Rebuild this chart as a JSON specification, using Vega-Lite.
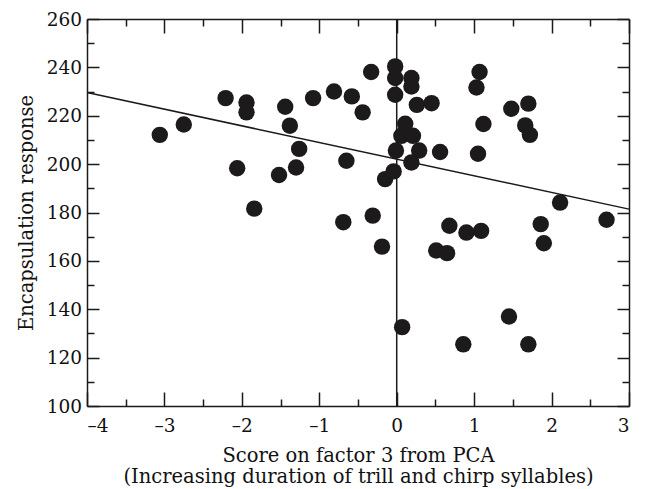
{
  "$schema": "https://vega.github.io/schema/vega-lite/v6.json",
  "width": 542,
  "height": 387,
  "autosize": "none",
  "padding": {"left": 87, "top": 19, "right": 19, "bottom": 83},
  "config": {
    "font": "DejaVu Serif",
    "view": {"stroke": null},
    "axis": {
      "domainColor": "#1a1a1a",
      "domainWidth": 1.5,
      "tickColor": "#1a1a1a",
      "tickWidth": 1.5,
      "grid": false,
      "labelFont": "DejaVu Serif",
      "labelFontSize": 18.5,
      "labelColor": "#111111",
      "titleFont": "DejaVu Serif",
      "titleFontSize": 19.5,
      "titleFontWeight": "normal",
      "titleColor": "#111111"
    }
  },
  "datasets": {
    "pts": [
      {"x": -3.06, "y": 212.1}, {"x": -2.75, "y": 216.4}, {"x": -2.21, "y": 227.3},
      {"x": -1.94, "y": 225.5}, {"x": -1.94, "y": 221.4}, {"x": -2.06, "y": 198.3},
      {"x": -1.84, "y": 181.6}, {"x": -1.52, "y": 195.5}, {"x": -1.30, "y": 198.6},
      {"x": -1.26, "y": 206.3}, {"x": -1.38, "y": 215.9}, {"x": -1.44, "y": 223.7},
      {"x": -1.08, "y": 227.3}, {"x": -0.81, "y": 230.0}, {"x": -0.58, "y": 228.0},
      {"x": -0.33, "y": 238.1}, {"x": -0.44, "y": 221.4}, {"x": -0.65, "y": 201.4},
      {"x": -0.69, "y": 176.0}, {"x": -0.31, "y": 178.7}, {"x": -0.19, "y": 165.9},
      {"x": 0.07, "y": 132.6}, {"x": -0.15, "y": 193.8}, {"x": -0.04, "y": 197.0},
      {"x": -0.02, "y": 240.4}, {"x": -0.02, "y": 235.6}, {"x": 0.19, "y": 235.6},
      {"x": 0.19, "y": 232.1}, {"x": -0.02, "y": 228.7}, {"x": 0.26, "y": 224.5},
      {"x": 0.45, "y": 225.2}, {"x": 1.07, "y": 238.1}, {"x": 1.03, "y": 231.7},
      {"x": 1.48, "y": 222.9}, {"x": 1.70, "y": 225.0}, {"x": 1.66, "y": 216.0},
      {"x": 1.72, "y": 212.1}, {"x": 1.12, "y": 216.6}, {"x": 0.56, "y": 205.0},
      {"x": 1.05, "y": 204.3}, {"x": 0.11, "y": 216.7}, {"x": 0.06, "y": 211.7},
      {"x": 0.21, "y": 211.7}, {"x": -0.01, "y": 205.6}, {"x": 0.29, "y": 205.6},
      {"x": 0.19, "y": 200.7}, {"x": 2.11, "y": 184.1}, {"x": 2.71, "y": 177.0},
      {"x": 0.68, "y": 174.5}, {"x": 0.51, "y": 164.3}, {"x": 0.65, "y": 163.2},
      {"x": 0.90, "y": 171.7}, {"x": 1.09, "y": 172.4}, {"x": 1.86, "y": 175.2},
      {"x": 1.90, "y": 167.3}, {"x": 1.45, "y": 137.0}, {"x": 0.86, "y": 125.5},
      {"x": 1.70, "y": 125.5}
    ],
    "fit": [{"x": -4, "y": 229.6}, {"x": 3, "y": 181.4}],
    "vline": [{"x": 0, "y": 100, "y2": 260}]
  },
  "resolve": {"axis": {"x": "independent", "y": "independent"}},
  "layer": [
    {
      "data": {"name": "vline"},
      "mark": {"type": "rule", "color": "#1a1a1a", "strokeWidth": 1.5},
      "encoding": {
        "x": {
          "field": "x", "type": "quantitative",
          "scale": {"domain": [-4, 3], "nice": false, "zero": false},
          "axis": {
            "orient": "top", "title": null, "labels": false,
            "values": [-4, -3.5, -3, -2.5, -2, -1.5, -1, -0.5, 0, 0.5, 1, 1.5, 2, 2.5, 3],
            "tickSize": {"condition": {"test": "datum.value % 1 === 0", "value": -14}, "value": -7}
          }
        },
        "y": {
          "field": "y", "type": "quantitative",
          "scale": {"domain": [100, 260], "nice": false, "zero": false},
          "axis": {
            "orient": "right", "title": null, "labels": false,
            "values": [100, 110, 120, 130, 140, 150, 160, 170, 180, 190, 200, 210, 220, 230, 240, 250, 260],
            "tickSize": {"condition": {"test": "datum.value % 20 === 0", "value": -12}, "value": -7}
          }
        },
        "y2": {"field": "y2"}
      }
    },
    {
      "data": {"name": "fit"},
      "mark": {"type": "line", "color": "#1a1a1a", "strokeWidth": 1.5},
      "encoding": {
        "x": {"field": "x", "type": "quantitative", "axis": null},
        "y": {"field": "y", "type": "quantitative", "axis": null}
      }
    },
    {
      "data": {"name": "pts"},
      "mark": {"type": "circle", "size": 270, "color": "#1c1a1b", "opacity": 1},
      "encoding": {
        "x": {
          "field": "x", "type": "quantitative",
          "axis": {
            "orient": "bottom",
            "title": ["Score on factor 3 from PCA", "(Increasing duration of trill and chirp syllables)"],
            "titlePadding": 12,
            "titleLineHeight": 21,
            "values": [-4, -3.5, -3, -2.5, -2, -1.5, -1, -0.5, 0, 0.5, 1, 1.5, 2, 2.5, 3],
            "labelExpr": "datum.value % 1 === 0 ? (datum.value < 0 ? '–' + abs(datum.value) : '' + datum.value) : ''",
            "labelPadding": 24,
            "tickSize": {"condition": {"test": "datum.value % 1 === 0", "value": -14}, "value": -7}
          }
        },
        "y": {
          "field": "y", "type": "quantitative",
          "axis": {
            "orient": "left",
            "title": "Encapsulation response",
            "titlePadding": 10,
            "values": [100, 110, 120, 130, 140, 150, 160, 170, 180, 190, 200, 210, 220, 230, 240, 250, 260],
            "labelExpr": "datum.value % 20 === 0 ? datum.label : ''",
            "labelPadding": 17.5,
            "tickSize": {"condition": {"test": "datum.value % 20 === 0", "value": -12}, "value": -7}
          }
        }
      }
    }
  ]
}
